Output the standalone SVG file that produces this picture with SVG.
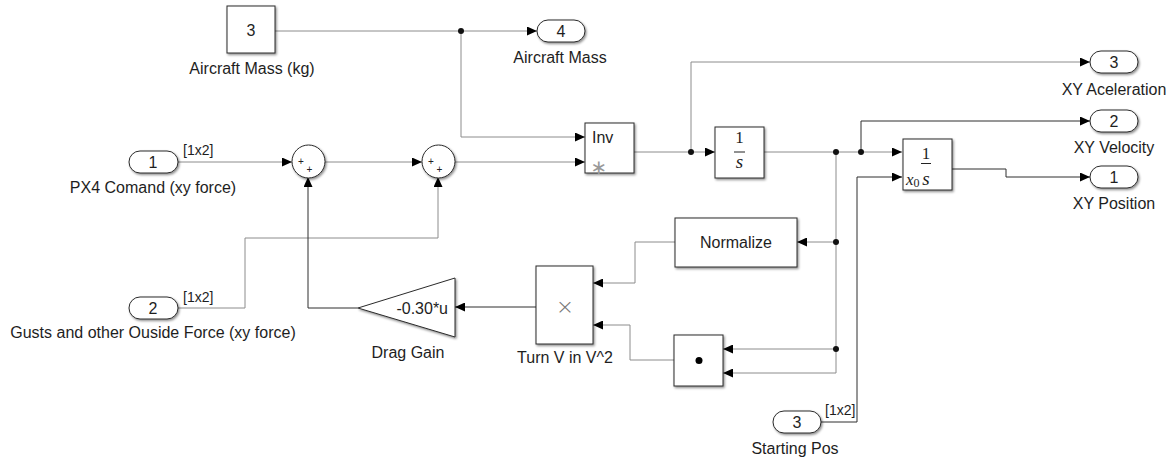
<svg xmlns="http://www.w3.org/2000/svg" width="1174" height="458" viewBox="0 0 1174 458">
<style>
.bg{fill:#fff}
.blk{fill:#fff;stroke:#2b2b2b;stroke-width:1;filter:url(#sh)}
.port{fill:#fff;stroke:#2b2b2b;stroke-width:1;filter:url(#sh)}
.w{fill:none;stroke:#8c8c8c;stroke-width:1}
.d{fill:none;stroke:#2e2e2e;stroke-width:1}
.jd{fill:#111}
text{font-family:"Liberation Sans",Arial,sans-serif;fill:#1e1e1e}
.lbl{font-size:16px;text-anchor:middle}
.pn{font-size:16px;text-anchor:middle}
.dim{font-size:14px}
.in{font-size:16px}
.ser{font-family:"Liberation Serif","Times New Roman",serif;text-anchor:middle}
.sg{font-size:10px;text-anchor:middle;fill:#222}
</style>
<defs>
<filter id="sh" x="-20%" y="-20%" width="140%" height="140%">
<feDropShadow dx="1.2" dy="1.5" stdDeviation="0.8" flood-color="#000" flood-opacity="0.45"/>
</filter>
<marker id="ar" viewBox="0 0 10 9" refX="10" refY="4.5" markerWidth="10" markerHeight="9" markerUnits="userSpaceOnUse" orient="auto">
<path d="M0,0 L10,4.5 L0,9 z" fill="#000"/>
</marker>
</defs>
<rect class="bg" x="0" y="0" width="1174" height="458"/>

<g id="connectors">
<path class="w" d="M275,31 H537" marker-end="url(#ar)"/>
<path class="w" d="M461,31 V137 H585" marker-end="url(#ar)"/>
<path class="w" d="M178,162 H292" marker-end="url(#ar)"/>
<path class="w" d="M325,162 H422" marker-end="url(#ar)"/>
<path class="w" d="M455,162 H585" marker-end="url(#ar)"/>
<path class="w" d="M178,308 H245 V238 H438 V177" marker-end="url(#ar)"/>
<path class="d" d="M358,308 H308 V177" marker-end="url(#ar)"/>
<path class="d" d="M536,307 H455" marker-end="url(#ar)"/>
<path class="w" d="M675,242 H635 V283 H593" marker-end="url(#ar)"/>
<path class="w" d="M674,360 H630 V325 H593" marker-end="url(#ar)"/>
<path class="w" d="M836,152 V373 H723" marker-end="url(#ar)"/>
<path class="w" d="M836,242 H797" marker-end="url(#ar)"/>
<path class="w" d="M836,349 H723" marker-end="url(#ar)"/>
<path class="w" d="M634,152 H715" marker-end="url(#ar)"/>
<path class="w" d="M691,152 V62 H1090" marker-end="url(#ar)"/>
<path class="w" d="M764,152 H902" marker-end="url(#ar)"/>
<path class="d" d="M861,152 V121 H1090" marker-end="url(#ar)"/>
<path class="d" d="M952,169 H1006 V177 H1090" marker-end="url(#ar)"/>
<path class="d" d="M821,422 H857 V177 H902" marker-end="url(#ar)"/>
<circle class="jd" cx="461" cy="31" r="3"/>
<circle class="jd" cx="691" cy="152" r="3"/>
<circle class="jd" cx="836" cy="152" r="3"/>
<circle class="jd" cx="861" cy="152" r="3"/>
<circle class="jd" cx="836" cy="242" r="3"/>
<circle class="jd" cx="836" cy="349" r="3"/>
<text class="dim" x="183" y="155">[1x2]</text>
<text class="dim" x="183" y="302">[1x2]</text>
<text class="dim" x="825" y="415">[1x2]</text>
</g>

<g id="mass_const">
<rect class="blk" x="227" y="6" width="48" height="47"/>
<text class="pn" x="251" y="36">3</text>
<text class="lbl" x="252" y="74">Aircraft Mass (kg)</text>
</g>

<g id="out4">
<rect class="port" x="537" y="20" width="48" height="22" rx="11"/>
<text class="pn" x="561" y="37">4</text>
<text class="lbl" x="560" y="63">Aircraft Mass</text>
</g>

<g id="in1">
<rect class="port" x="129" y="151" width="49" height="22" rx="11"/>
<text class="pn" x="153" y="168">1</text>
<text class="lbl" x="153" y="193">PX4 Comand (xy force)</text>
</g>

<g id="in2">
<rect class="port" x="129" y="297" width="49" height="22" rx="11"/>
<text class="pn" x="153" y="314">2</text>
<text class="lbl" x="153" y="338">Gusts and other Ouside Force (xy force)</text>
</g>

<g id="sum1">
<circle class="blk" cx="308.5" cy="161.5" r="16.5"/>
<text class="sg" x="301" y="164.5">+</text>
<text class="sg" x="309.5" y="173">+</text>
</g>

<g id="sum2">
<circle class="blk" cx="438.5" cy="161.5" r="16.5"/>
<text class="sg" x="431" y="164.5">+</text>
<text class="sg" x="439.5" y="173">+</text>
</g>

<g id="inv">
<rect class="blk" x="585" y="123" width="49" height="50"/>
<text class="in" x="592" y="143">Inv</text>
<text x="599" y="174" style="font-family:'DejaVu Sans',sans-serif;font-size:20px;fill:#999;text-anchor:middle">∗</text>
</g>

<g id="int1">
<rect class="blk" x="715" y="127" width="49" height="51"/>
<text class="ser" x="739.5" y="143" style="font-size:17px">1</text>
<line x1="734" y1="152" x2="745" y2="152" stroke="#222" stroke-width="1"/>
<text class="ser" x="739.5" y="168" style="font-size:19px;font-style:italic">s</text>
</g>

<g id="int2">
<rect class="blk" x="903" y="139" width="49" height="51"/>
<text class="ser" x="926" y="159" style="font-size:17px">1</text>
<line x1="921" y1="163.5" x2="931" y2="163.5" stroke="#222" stroke-width="1"/>
<text x="906" y="185" style="font-family:'Liberation Serif',serif;font-size:17px;font-style:italic">x<tspan style="font-style:normal;font-size:12px" dy="2">0</tspan></text>
<text class="ser" x="926" y="185" style="font-size:19px;font-style:italic">s</text>
</g>

<g id="out3">
<rect class="port" x="1090" y="51" width="48" height="22" rx="11"/>
<text class="pn" x="1114" y="68">3</text>
<text class="lbl" x="1114" y="95">XY Aceleration</text>
</g>

<g id="out2">
<rect class="port" x="1090" y="110" width="48" height="22" rx="11"/>
<text class="pn" x="1114" y="127">2</text>
<text class="lbl" x="1114" y="153">XY Velocity</text>
</g>

<g id="out1">
<rect class="port" x="1090" y="166" width="48" height="22" rx="11"/>
<text class="pn" x="1114" y="183">1</text>
<text class="lbl" x="1114" y="209">XY Position</text>
</g>

<g id="normalize">
<rect class="blk" x="675" y="218" width="122" height="49"/>
<text class="in" x="736" y="248" style="text-anchor:middle">Normalize</text>
</g>

<g id="product">
<rect class="blk" x="536" y="266" width="57" height="78"/>
<text x="565" y="314" style="font-family:'DejaVu Sans',sans-serif;font-size:22px;font-weight:200;fill:#777;text-anchor:middle">×</text>
<text class="lbl" x="565" y="363">Turn V in V^2</text>
</g>

<g id="dot">
<rect class="blk" x="674" y="335" width="49" height="51"/>
<circle cx="699" cy="360.5" r="3.5" fill="#000"/>
</g>

<g id="gain">
<polygon class="blk" points="358,308 455,278 455,337"/>
<text class="in" x="448" y="314" style="text-anchor:end">-0.30*u</text>
<text class="lbl" x="408" y="358">Drag Gain</text>
</g>

<g id="in3">
<rect class="port" x="773" y="411" width="48" height="22" rx="11"/>
<text class="pn" x="797" y="428">3</text>
<text class="lbl" x="795" y="454">Starting Pos</text>
</g>
</svg>
